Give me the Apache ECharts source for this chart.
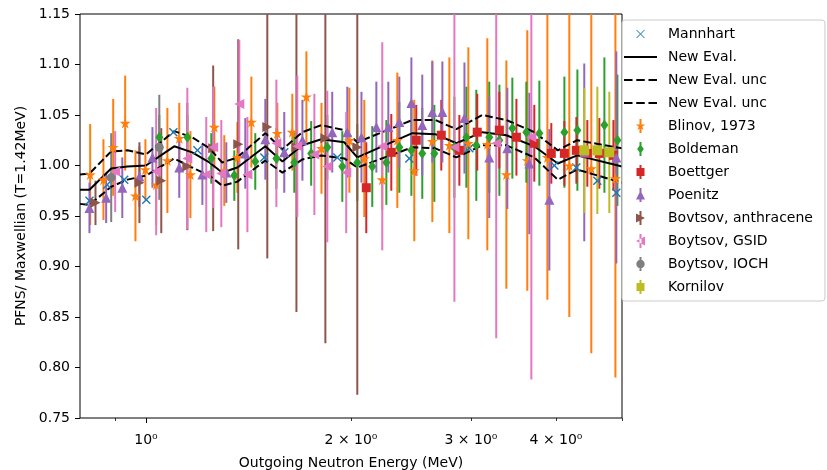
<!DOCTYPE html>
<html><head><meta charset="utf-8">
<script src="https://cdn.jsdelivr.net/npm/echarts@6/dist/echarts.min.js"></script>
<style>html,body{margin:0;padding:0;background:#fff}#c{width:827px;height:470px}</style>
</head><body><div id="c"></div>
<script>
// ---- axis ticks ----
const xTickValues = [1, 2, 3, 4];
const xTickLabels = ['10\u2070', '2 \u00d7 10\u2070', '3 \u00d7 10\u2070', '4 \u00d7 10\u2070'];
const xMinorTicks = [0.9, 2, 3, 4, 5];

// ---- New evaluation ----
const evalE   = [0.800,0.826,0.889,0.939,1.000,1.100,1.169,1.239,1.294,1.362,1.497,1.586,1.697,1.809,1.955,2.043,2.461,2.660,2.856,3.118,3.382,3.717,4.024,4.296,5.000];
const evalMid = [0.976,0.976,0.997,0.999,1.000,1.019,1.013,1.003,0.993,0.998,1.019,1.004,1.020,1.026,1.023,1.008,1.032,1.031,1.022,1.033,1.030,1.019,1.002,1.010,0.999];
const evalHi  = [0.991,0.992,1.014,1.015,1.011,1.034,1.028,1.017,1.003,1.008,1.032,1.016,1.033,1.040,1.035,1.023,1.045,1.045,1.036,1.050,1.045,1.033,1.015,1.025,1.017];
const evalLo  = [0.962,0.961,0.979,0.986,0.990,1.007,0.998,0.990,0.980,0.984,1.005,0.993,1.006,1.010,1.007,0.998,1.018,1.017,1.008,1.020,1.020,1.008,0.986,0.996,0.983];

// ---- Mannhart ----
const mannE = [0.826,0.877,0.929,1.001,1.097,1.190,1.492,1.596,1.910,2.436,2.984,3.978,4.284,4.600,4.905];
const mannV = [0.965,0.981,0.986,0.966,1.033,1.015,1.008,1.013,1.008,1.007,1.017,1.000,0.998,0.985,0.973];

// ---- Blinov, 1973 ----
const blinE = [0.828,0.866,0.895,0.932,0.965,0.998,1.035,1.075,1.119,1.162,1.260,1.303,1.362,1.428,1.559,1.640,1.720,1.810,1.989,2.092,2.223,2.339,2.477,2.633,2.789,2.974,3.171,3.382,3.630,3.885,4.184,4.507,4.890];
const blinV = [0.991,0.986,1.018,1.042,0.970,0.996,0.981,1.005,1.027,0.991,1.038,0.995,1.008,1.043,1.032,1.033,1.068,1.017,1.025,1.007,0.986,1.025,0.995,1.024,1.020,1.022,1.021,0.991,1.005,1.008,1.000,0.997,0.987];
const blinErr = [0.050,0.040,0.048,0.047,0.045,0.030,0.040,0.052,0.035,0.043,0.040,0.035,0.035,0.045,0.030,0.038,0.045,0.045,0.052,0.058,0.030,0.067,0.070,0.080,0.087,0.095,0.105,0.113,0.129,0.141,0.150,0.183,0.197];

// ---- Boldeman ----
const boldE = [1.046,1.150,1.247,1.348,1.447,1.554,1.651,1.748,1.846,1.942,2.043,2.149,2.254,2.355,2.453,2.545,2.651,2.837,2.954,3.055,3.192,3.303,3.451,3.618,3.781,4.115,4.300,4.711,4.923];
const boldV = [1.028,1.028,1.007,0.990,1.004,1.007,1.003,1.012,1.018,0.999,1.003,0.999,1.003,1.018,1.015,1.012,1.012,1.018,1.028,1.020,1.028,1.025,1.037,1.033,1.032,1.033,1.035,1.040,1.025];
const boldErr = [0.022,0.022,0.025,0.025,0.028,0.030,0.030,0.032,0.032,0.035,0.038,0.040,0.042,0.045,0.045,0.045,0.048,0.050,0.050,0.055,0.055,0.055,0.050,0.050,0.052,0.055,0.060,0.067,0.065];

// ---- Boettger ----
const boetE = [2.106,2.292,2.494,2.714,2.885,3.065,3.303,3.499,3.717,3.937,4.115,4.285,4.447,4.631,4.857];
const boetV = [0.978,1.013,1.025,1.030,1.015,1.033,1.035,1.028,1.022,1.012,1.012,1.015,1.012,1.012,1.010];
const boetErr = [0.045,0.038,0.035,0.035,0.035,0.038,0.038,0.038,0.038,0.030,0.032,0.033,0.033,0.035,0.035];

// ---- Poenitz ----
const poenE = [0.826,0.874,0.923,0.978,1.022,1.119,1.210,1.312,1.399,1.497,1.596,1.697,1.877,1.975,2.072,2.179,2.269,2.355,2.453,2.545,2.633,2.724,2.935,3.192,3.393,3.655,3.911,4.401,4.905];
const poenV = [0.958,0.968,0.978,0.989,1.008,0.998,0.991,0.993,1.012,1.026,1.013,1.025,1.033,1.033,1.028,1.038,1.038,1.043,1.062,1.040,1.053,1.053,1.047,1.008,1.017,1.002,0.966,1.013,1.008];
const poenErr = [0.025,0.025,0.030,0.030,0.030,0.030,0.030,0.030,0.035,0.040,0.040,0.040,0.040,0.045,0.045,0.045,0.045,0.045,0.045,0.050,0.050,0.050,0.055,0.060,0.060,0.070,0.070,0.088,0.105];

// ---- Bovtsov, anthracene ----
const bovE = [0.843,0.978,1.053,1.150,1.255,1.366,1.507,1.663,1.834,2.043];
const bovV = [0.963,0.983,0.985,0.999,1.017,1.021,1.038,1.018,1.027,1.018];
const bovErr = [0.022,0.040,0.052,0.063,0.082,0.104,0.130,0.163,0.203,0.245];

// ---- Boytsov, GSID ----
const gsidE = [0.901,1.035,1.150,1.226,1.255,1.290,1.371,1.409,1.554,1.668,1.767,1.846,1.968,2.223,2.837,3.268,3.680];
const gsidV = [0.994,0.994,1.007,0.991,1.018,0.992,1.061,0.991,1.022,1.019,1.011,0.999,0.993,1.019,1.018,1.022,1.028];
const gsidErr = [0.040,0.063,0.070,0.057,0.060,0.053,0.063,0.057,0.063,0.070,0.060,0.075,0.060,0.103,0.153,0.193,0.240];

// ---- Boytsov, IOCH ----
const iochE = [0.889,1.046];
const iochV = [0.988,1.018];
const iochErr = [0.044,0.052];

// ---- Kornilov ----
const kornE = [4.401,4.600,4.790];
const kornV = [1.015,1.015,1.013];
const kornErr = [0.062,0.063,0.060];

// ---- styling ----
const FONT = 'DejaVu Sans';
const starPath = 'M0,-1 L0.2245,-0.309 L0.951,-0.309 L0.363,0.118 L0.588,0.809 L0,0.382 L-0.588,0.809 L-0.363,0.118 L-0.951,-0.309 L-0.2245,-0.309 Z';
const diaPath = 'M0,-0.95 L0.66,0 L0,0.95 L-0.66,0 Z';
const sqPath = 'M-0.8,-0.8 L0.8,-0.8 L0.8,0.8 L-0.8,0.8 Z';
const triUpPath = 'M0,-0.9 L0.9,0.9 L-0.9,0.9 Z';
const triRPath = 'M-0.9,-0.9 L0.9,0 L-0.9,0.9 Z';
const triLPath = 'M0.9,-0.9 L-0.9,0 L0.9,0.9 Z';
const circPath = 'M0.85,0 L0.736,0.425 L0.425,0.736 L0,0.85 L-0.425,0.736 L-0.736,0.425 L-0.85,0 L-0.736,-0.425 L-0.425,-0.736 L0,-0.85 L0.425,-0.736 L0.736,-0.425 Z';
const barPath = 'M-0.2,-1.4 L0.2,-1.4 L0.2,1.4 L-0.2,1.4 Z ';
const xLegPath = 'M-0.85,-0.74 L-0.74,-0.85 L0,-0.11 L0.74,-0.85 L0.85,-0.74 L0.11,0 L0.85,0.74 L0.74,0.85 L0,0.11 L-0.74,0.85 L-0.85,0.74 L-0.11,0 Z M0,-1.4 L0.001,-1.4 L0,-1.399 Z M0,1.4 L0.001,1.4 L0,1.399 Z';
const xMarkPath = 'path://M0,0.11 L0.11,0 L0.5,0.39 L0.89,0 L1,0.11 L0.61,0.5 L1,0.89 L0.89,1 L0.5,0.61 L0.11,1 L0,0.89 L0.39,0.5 Z';
const solidLegPath = 'path://M0,0 L33,0 L33,2 L0,2 Z';
const dashLegPath = 'path://M1,0 L9,0 L9,2 L1,2 Z M12.5,0 L20.5,0 L20.5,2 L12.5,2 Z M24,0 L32,0 L32,2 L24,2 Z';

function errSeries(name, E, V, Err, color) {
  return {
    type: 'custom', name: name, z: 1, silent: true, animation: false,
    xAxisIndex: 0, yAxisIndex: 0,
    data: E.map((e, i) => [e, V[i], Err[i]]),
    encode: { x: 0, y: 1 },
    itemStyle: { color: color },
    renderItem: function (params, api) {
      const e = api.value(0), v = api.value(1), er = api.value(2);
      const p1 = api.coord([e, v + er]);
      const p2 = api.coord([e, v - er]);
      const cs = params.coordSys;
      const cl = y => Math.max(cs.y, Math.min(cs.y + cs.height, y));
      return { type: 'line', shape: { x1: p1[0], y1: cl(p1[1]), x2: p2[0], y2: cl(p2[1]) },
               style: { stroke: color, lineWidth: 2 } };
    }
  };
}
function markSeries(name, E, V, color, symbol, size) {
  return {
    type: 'scatter', name: name, z: 3, silent: true, animation: false,
    xAxisIndex: 0, yAxisIndex: 0,
    data: E.map((e, i) => [e, V[i]]),
    symbol: symbol, symbolSize: size,
    itemStyle: { color: color, opacity: 1 }
  };
}
function lineSeries(name, E, V, type) {
  return {
    type: 'line', name: name, z: 2, silent: true, animation: false,
    xAxisIndex: 0, yAxisIndex: 0,
    data: E.map((e, i) => [e, V[i]]),
    symbol: 'none',
    itemStyle: { color: '#000' },
    lineStyle: { color: '#000', width: 2, type: type }
  };
}

const col = { blue:'#1f77b4', orange:'#ff7f0e', green:'#2ca02c', red:'#d62728', purple:'#9467bd', brown:'#8c564b', pink:'#e377c2', gray:'#7f7f7f', olive:'#bcbd22' };

const series = [
  errSeries('Blinov, 1973', blinE, blinV, blinErr, col.orange),
  errSeries('Boldeman', boldE, boldV, boldErr, col.green),
  errSeries('Boettger', boetE, boetV, boetErr, col.red),
  errSeries('Poenitz', poenE, poenV, poenErr, col.purple),
  errSeries('Bovtsov, anthracene', bovE, bovV, bovErr, col.brown),
  errSeries('Boytsov, GSID', gsidE, gsidV, gsidErr, col.pink),
  errSeries('Boytsov, IOCH', iochE, iochV, iochErr, col.gray),
  errSeries('Kornilov', kornE, kornV, kornErr, col.olive),
  markSeries('Mannhart', mannE, mannV, col.blue, xMarkPath, 9),
  lineSeries('New Eval.', evalE, evalMid, 'solid'),
  lineSeries('New Eval. unc', evalE, evalHi, [7.7, 3.3]),
  lineSeries('New Eval. unc ', evalE, evalLo, [7.7, 3.3]),
  markSeries('Blinov, 1973', blinE, blinV, col.orange, 'path://' + starPath, 11),
  markSeries('Boldeman', boldE, boldV, col.green, 'diamond', [8, 11]),
  markSeries('Boettger', boetE, boetV, col.red, 'rect', 9),
  markSeries('Poenitz', poenE, poenV, col.purple, 'triangle', 10),
  markSeries('Bovtsov, anthracene', bovE, bovV, col.brown, 'path://M0,0 L1,0.5 L0,1 Z', 10),
  markSeries('Boytsov, GSID', gsidE, gsidV, col.pink, 'path://M1,0 L0,0.5 L1,1 Z', 10),
  markSeries('Boytsov, IOCH', iochE, iochV, col.gray, 'circle', 9),
  markSeries('Kornilov', kornE, kornV, col.olive, 'rect', 10)
];

const chart = echarts.init(document.getElementById('c'), null, { renderer: 'canvas' });
chart.setOption({
  animation: false,
  backgroundColor: '#fff',
  grid: { left: 80, right: 205, top: 14, bottom: 52, containLabel: false, outerBoundsMode: 'none',
          show: true, borderColor: '#000', borderWidth: 1, backgroundColor: 'transparent' },
  xAxis: [
    {
      type: 'log', logBase: 10, min: 0.8, max: 5, position: 'bottom',
      axisLine: { show: false }, splitLine: { show: false }, minorTick: { show: false },
      axisTick: { show: true, inside: false, length: 5, lineStyle: { color: '#000', width: 1 }, customValues: [1] },
      axisLabel: { customValues: xTickValues, margin: 15, fontFamily: FONT, fontSize: 14, color: '#000',
        formatter: function (v) { const i = xTickValues.findIndex(t => Math.abs(t - v) < 1e-6); return i >= 0 ? xTickLabels[i] : ''; } },
      name: 'Outgoing Neutron Energy (MeV)', nameLocation: 'middle', nameGap: 38,
      nameTextStyle: { fontFamily: FONT, fontSize: 14, color: '#000' }
    },
    {
      type: 'log', logBase: 10, min: 0.8, max: 5, position: 'bottom',
      axisLine: { show: false }, splitLine: { show: false }, axisLabel: { show: false },
      axisTick: { show: true, inside: false, length: 3, lineStyle: { color: '#000', width: 0.8 }, customValues: xMinorTicks }
    }
  ],
  yAxis: {
    type: 'value', min: 0.75, max: 1.15, interval: 0.05,
    axisLine: { show: false }, splitLine: { show: false },
    axisTick: { show: true, inside: false, length: 5, lineStyle: { color: '#000', width: 1 } },
    axisLabel: { margin: 10, fontFamily: FONT, fontSize: 14, color: '#000', formatter: v => v.toFixed(2) },
    name: 'PFNS/ Maxwellian (T=1.42MeV)', nameLocation: 'middle', nameGap: 46, nameRotate: 90,
    nameTextStyle: { fontFamily: FONT, fontSize: 14, color: '#000' }
  },
  legend: {
    orient: 'vertical', left: 622, top: 20, padding: [7, 12, 7, 2],
    itemWidth: 33, itemHeight: 14, itemGap: 9, selectedMode: false,
    backgroundColor: 'rgba(255,255,255,0.8)', borderColor: '#cccccc', borderWidth: 1, borderRadius: 3,
    textStyle: { fontFamily: FONT, fontSize: 14, color: '#000', lineHeight: 14, padding: [0, 0, 0, 6] },
    data: [
      { name: 'Mannhart', icon: 'path://' + xLegPath },
      { name: 'New Eval.', icon: solidLegPath },
      { name: 'New Eval. unc', icon: dashLegPath },
      { name: 'New Eval. unc ', icon: dashLegPath },
      { name: 'Blinov, 1973', icon: 'path://' + barPath + starPath },
      { name: 'Boldeman', icon: 'path://' + barPath + diaPath },
      { name: 'Boettger', icon: 'path://' + barPath + sqPath },
      { name: 'Poenitz', icon: 'path://' + barPath + triUpPath },
      { name: 'Bovtsov, anthracene', icon: 'path://' + barPath + triRPath },
      { name: 'Boytsov, GSID', icon: 'path://' + barPath + triLPath },
      { name: 'Boytsov, IOCH', icon: 'path://' + barPath + circPath },
      { name: 'Kornilov', icon: 'path://' + barPath + sqPath }
    ]
  },
  series: series
});
</script>
</body></html>
